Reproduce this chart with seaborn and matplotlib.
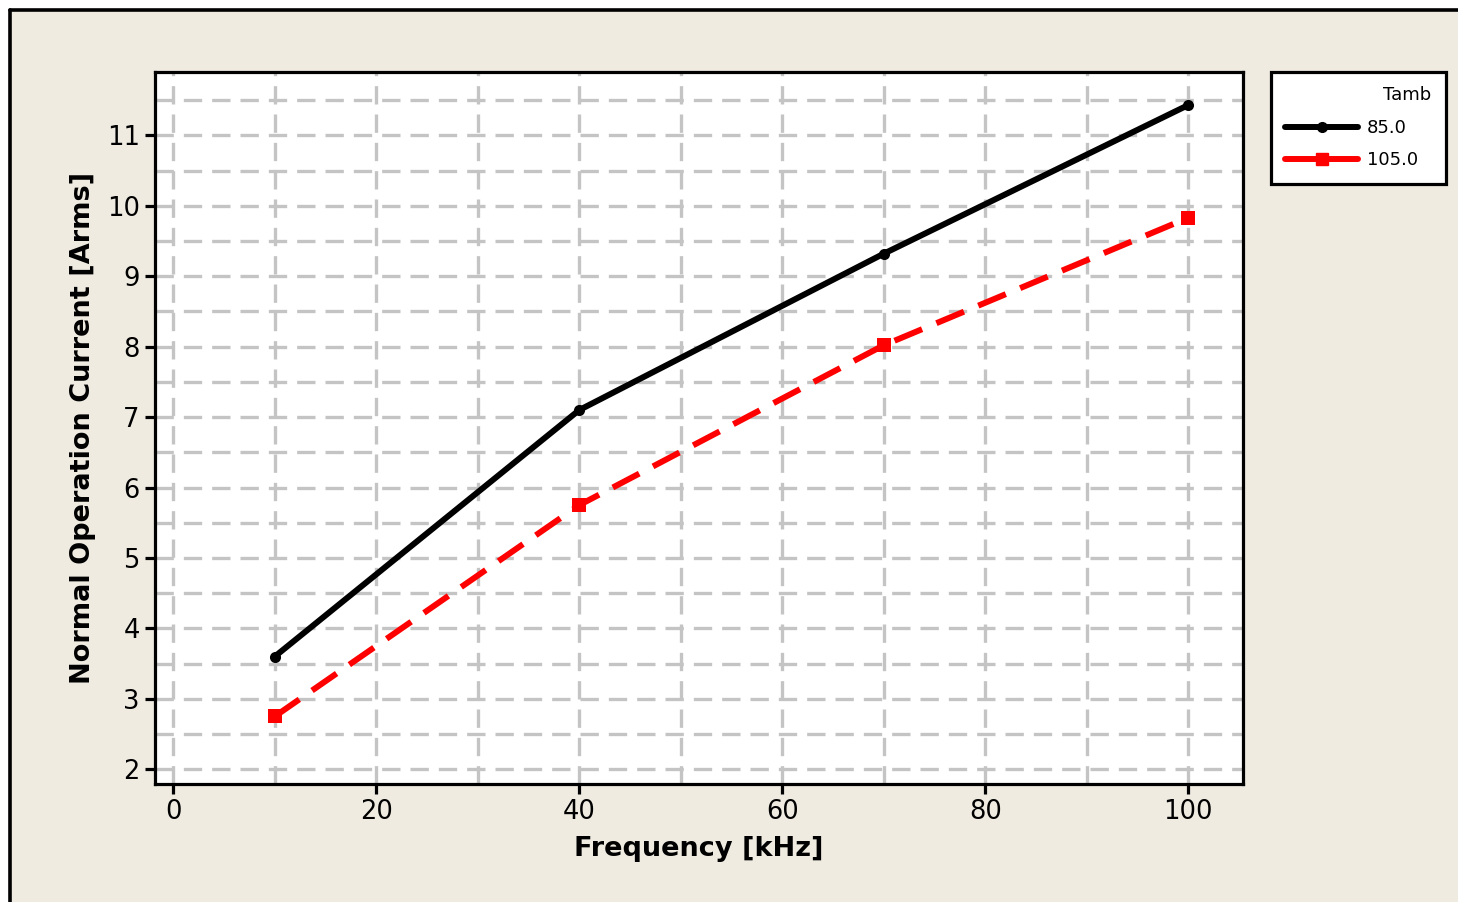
import matplotlib
matplotlib.use("Agg")
import matplotlib.pyplot as plt
from matplotlib.ticker import MultipleLocator
from matplotlib.lines import Line2D
import seaborn as sns
import pandas as pd

freq = [10, 40, 70, 100]
current_85 = [3.6, 7.1, 9.32, 11.43]
current_105 = [2.75, 5.75, 8.02, 9.83]
series_labels = ["85.0", "105.0"]
x_ticks = [0, 20, 40, 60, 80, 100]
y_ticks = [2, 3, 4, 5, 6, 7, 8, 9, 10, 11]

sns.set_theme(style="white")
plt.rcParams['font.family'] = ['DejaVu Sans']
plt.rcParams['text.color'] = 'black'

bg = "#EFEBE1"
fig = plt.figure(figsize=(14.58, 9.02), dpi=100, facecolor="white")
x0f = 9.5 / 1458
y0f = 1 - 9.5 / 902
fig.patches.append(plt.Rectangle((x0f, 0), 1.0, y0f, transform=fig.transFigure,
                                 facecolor=bg, edgecolor="none", zorder=-10))
fig.lines.append(Line2D([x0f, x0f], [0, y0f], transform=fig.transFigure, color="black", lw=2.6))
fig.lines.append(Line2D([x0f, 1.0], [y0f, y0f], transform=fig.transFigure, color="black", lw=2.6))

ax = fig.add_axes([155 / 1458, 1 - 784 / 902, (1243 - 155) / 1458, (784 - 72) / 902])
ax.set_facecolor("white")

df85 = pd.DataFrame({"f": freq, "c": current_85})
df105 = pd.DataFrame({"f": freq, "c": current_105})
sns.lineplot(data=df85, x="f", y="c", ax=ax, color="black", linewidth=4.3,
             marker="o", markersize=8, markeredgewidth=0, zorder=5)
sns.lineplot(data=df105, x="f", y="c", ax=ax, color="#FF0000", linewidth=4.3,
             dashes=False, marker="s", markersize=10, markeredgewidth=0, zorder=4)
ax.lines[1].set_dashes([5, 2.6])

ax.set_xlim(-1.8, 105.4)
ax.set_ylim(1.79, 11.9)
ax.set_xticks(x_ticks)
ax.set_yticks(y_ticks)
ax.xaxis.set_minor_locator(MultipleLocator(10))
ax.yaxis.set_minor_locator(MultipleLocator(0.5))
ax.grid(True, which="both", color="#C4C4C4", linewidth=2.4, linestyle=(0, (5.5, 3.0)))
ax.set_axisbelow(True)

for s in ax.spines.values():
    s.set_color("black")
    s.set_linewidth(2.3)
ax.tick_params(axis="both", which="major", direction="out", length=7, width=2.3,
               color="black", labelsize=18.5, labelcolor="black", left=True, bottom=True, pad=4)
ax.tick_params(axis="both", which="minor", length=0)

ax.set_xlabel("Frequency [kHz]", fontsize=19.5, fontweight="bold", color="black", labelpad=8)
ax.set_ylabel("Normal Operation Current [Arms]", fontsize=19.5, fontweight="bold", color="black", labelpad=8)

handles = [Line2D([0], [0], color="black", lw=4.3, marker="o", markersize=7),
           Line2D([0], [0], color="#FF0000", lw=4.3, marker="s", markersize=9)]
lx0 = 1271 / 1458
lw_ = (1446 - 1271) / 1458
ly1 = 1 - 72 / 902
leg = fig.legend(handles, series_labels, title="Tamb", loc="upper left",
                 bbox_to_anchor=(lx0, ly1 - 0.12, lw_, 0.12), mode="expand",
                 fontsize=13, title_fontsize=13, labelcolor="black",
                 frameon=True, fancybox=False, edgecolor="black", facecolor="white",
                 handlelength=4.0, handletextpad=0.5, borderpad=0.8, labelspacing=0.8,
                 borderaxespad=0)
leg.get_frame().set_linewidth(2.3)
leg.get_frame().set_alpha(1)
leg.get_title().set_color("black")
leg._legend_box.align = "right"

fig.savefig("out.png", dpi=100, facecolor=fig.get_facecolor())
